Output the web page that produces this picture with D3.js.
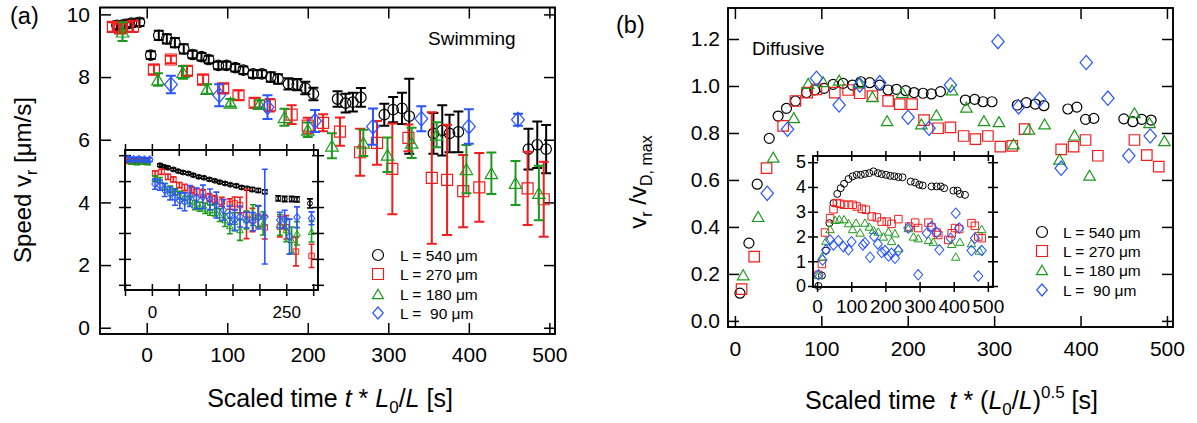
<!DOCTYPE html>
<html>
<head>
<meta charset="utf-8">
<script src="https://cdn.jsdelivr.net/npm/d3@7"></script>
<style>
  body { margin: 0; background: #fff; }
  text { white-space: pre; }
</style>
</head>
<body>
<script>
// ---- legend / series
const seriesLabels = ["L = 540 \u03bcm", "L = 270 \u03bcm", "L = 180 \u03bcm", "L =  90 \u03bcm"];
const COLORS = ["#000000", "#f21d1d", "#1c9a1c", "#2a55ff"];
const SHAPES = ["circle", "square", "triangle", "diamond"];

// ---- (a) swimming, main: [scaled time, speed, error]
const swim540 = [[-37,9.65,.12],[-27,9.68,.12],[-19,9.72,.12],[-9,9.75,.12],[5,8.7,.12],[15,9.33,.15],[25,9.22,.15],
  [35,9.1,.15],[46,8.9,.15],[57,8.72,.12],[68,8.65,.12],[77,8.56,.12],[89,8.37,.12],[99,8.37,.12],[110,8.3,.12],
  [120,8.22,.12],[132,8.1,.12],[143,8.1,.12],[154,8.0,.15],[163,7.94,.15],[176,7.78,.18],[187,7.76,.18],[197,7.65,.2],
  [207,7.46,.2],[237,7.3,.25],[247,7.17,.3],[256,7.2,.3],[266,7.35,.3],[295,6.8,.35],[306,6.96,.4],[317,7.0,.5],
  [326,6.75,1.2],[356,6.2,.65],[367,6.3,.8],[376,6.2,.6],[387,6.25,.65],[474,5.7,.65],[485,5.84,.74],[496,5.7,.77]];
const swim270 = [[-42,9.6,.15],[-33,9.55,.15],[-25,9.6,.15],[-17,9.62,.18],[9,8.24,.15],[30,8.56,.12],[50,8.2,.15],
  [70,7.92,.15],[95,7.64,.15],[114,7.42,.15],[134,7.18,.15],[153,7.1,.2],[180,6.8,.3],[200,6.45,.25],[219,6.54,.27],
  [240,6.26,.45],[265,5.6,.75],[286,5.9,.7],[305,5.07,1.45],[325,6.06,.43],[354,4.78,2.1],[373,4.72,1.76],
  [393,4.36,1.15],[413,4.48,1.1],[473,4.45,1.17],[493,4.1,1.2]];
const swim180 = [[-30,9.45,.3],[14,7.92,.2],[45,8.15,.2],[75,7.62,.15],[104,7.18,.12],[140,7.14,.12],[171,6.72,.27],
  [200,6.32,.23],[230,5.81,.4],[269,5.9,.42],[299,5.52,.55],[329,5.9,.48],[360,6.16,.4],[397,5.06,.77],
  [428,4.93,.66],[458,4.62,.7],[487,4.3,.87]];
const swim90 = [[30,7.76,.28],[90,7.42,.35],[150,7.04,.38],[209,6.6,.35],[281,6.42,.58],[341,6.67,.4],
  [400,6.42,.55],[461,6.64,.19]];

// ---- (a) inset, unscaled time: [time, speed, error]
const swimRaw540 = [[-40,9.6,.1],[-30,9.62,.1],[-20,9.6,.1],[-10,9.58,.1],[15,9.23,.1],[23,9.1,.1],[30,9.03,.1],
  [40,8.9,.1],[49,8.77,.1],[58,8.67,.1],[68,8.59,.1],[77,8.46,.1],[87,8.33,.1],[97,8.26,.1],[107,8.13,.1],
  [117,8.03,.1],[126,7.92,.1],[136,7.82,.1],[146,7.72,.1],[157,7.64,.12],[167,7.51,.12],[177,7.44,.12],
  [187,7.36,.15],[198,7.28,.15],[210,7.18,.15],[235,6.67,.2],[247,6.62,.2],[260,6.62,.2],[270,6.59,.2],[294,6.28,.35]];
const swimRaw270 = [[-42,9.55,.15],[-32,9.5,.15],[-22,9.55,.15],[-12,9.5,.15],[6,8.59,.2],[18,8.72,.2],[30,8.33,.2],
  [40,8.13,.2],[51,7.69,.2],[61,7.51,.25],[74,7.31,.25],[83,7.18,.25],[95,7.05,.3],[107,6.74,.3],[117,6.59,.3],
  [130,6.41,.35],[145,6.23,.4],[154,6.28,.5],[164,6.15,.6],[176,5.46,1.9],[187,5.0,.9],[198,5.26,.8],[210,4.44,.9],
  [238,4.49,.8],[250,4.44,.9],[268,2.56,1.1],[297,2.23,.9]];
const swimRaw180 = [[-38,9.5,.15],[-28,9.45,.15],[-18,9.5,.15],[-8,9.45,.15],[6,8.21,.2],[15,8.08,.2],[24,7.56,.25],
  [34,7.36,.25],[43,7.18,.25],[52,6.92,.3],[61,6.79,.3],[71,6.54,.3],[80,6.15,.35],[89,6.03,.35],[99,5.9,.4],
  [108,5.77,.4],[117,5.77,.45],[126,5.38,.5],[136,5.0,.5],[145,4.54,.6],[154,4.87,.7],[164,4.23,.8],[176,5.0,.7],
  [188,5.38,.8],[198,5.26,.8],[207,4.74,.9],[238,4.62,.8],[250,4.23,.9],[260,3.46,1.0],[270,3.97,.9],[297,4.1,.8]];
const swimRaw90 = [[-44,9.7,.15],[-34,9.68,.15],[-24,9.7,.15],[-14,9.66,.15],[-4,9.65,.15],[6,7.77,.4],[15,7.69,.4],
  [24,7.31,.5],[34,7.05,.5],[43,6.74,.6],[52,6.49,.6],[61,6.41,.7],[71,6.85,.8],[83,6.67,.8],[95,6.79,.9],
  [108,6.59,.8],[120,6.15,1.0],[133,5.77,.8],[145,5.38,.7],[154,5.0,.8],[164,5.26,.8],[176,5.0,.6],[188,4.87,.7],
  [198,5.21,.9],[210,5.26,3.65],[238,5.0,.6],[247,5.05,.7],[256,3.72,1.35],[270,5.21,.8],[297,5.13,.5]];

// ---- (b) diffusive, main: [scaled time, vr / vD,max]
const diff540 = [[5.8,.118],[16.2,.331],[25.8,.582],[39.7,.777],[50,.872],[59.7,.905],[70.1,.936],[82.8,.972],
  [92.5,.983],[103.2,.99],[113.6,1.007],[125.2,1.011],[136,1.004],[145.7,1.018],[156,1.014],[167.6,1.004],
  [177.3,.983],[186.9,.986],[197.7,.98],[207.3,.972],[217.7,.969],[227.4,.966],[237.8,.976],[266.7,.94],
  [277.5,.943],[287.1,.933],[297.5,.933],[326.8,.919],[337.2,.929],[347.6,.923],[357.6,.916],[385.3,.902],
  [395.7,.91],[405.8,.858],[415.4,.862],[450.1,.86],[460.5,.848],[470.9,.858],[481.7,.855]];
const diff270 = [[7.7,.135],[22.3,.274],[36.6,.65],[55.8,.83],[70,.936],[83.6,.972],[94.4,.986],[115.6,.972],
  [131,.983],[144.5,.969],[159.2,.957],[177.3,.937],[190.8,.923],[205,.923],[218.9,.855],[235.1,.82],[249.4,.824],
  [264.7,.787],[278.3,.774],[292.8,.787],[307.2,.742],[321,.745],[335.3,.816],[377.6,.73],[391.9,.742],
  [405.8,.77],[420,.703],[462.4,.77],[476.7,.706],[490.5,.657]];
const diff180 = [[9.6,.196],[26.9,.444],[44.3,.697],[68.2,.865],[84.8,1.011],[102.1,1.018],[120.6,1.025],
  [143.7,1.014],[159.2,.954],[176.1,.852],[193.9,.972],[215.8,.838],[233.2,.877],[251.3,.983],[267.9,.91],
  [288.2,.852],[305.6,.848],[322.5,.753],[340.2,.816],[358.4,.838],[375.7,.688],[393,.791],[410.4,.62],
  [462.4,.886],[479.8,.844],[497.1,.767]];
const diff90 = [[37.4,.543],[60.9,.816],[94.4,1.033],[120.6,.919],[144.5,1.004],[167.6,1.014],[200.4,.867],
  [224.7,.82],[249.4,1.004],[304.4,1.189],[328.3,.911],[352.6,.943],[377.6,.65],[406.6,1.1],[431.6,.948],
  [455.9,.703],[480.6,.787]];

// ---- (b) inset: [time, speed]
const diffRaw540 = [[4,0],[14,.42],[26,1.43],[36,2.54],[48,3.35],[59,3.72],[69,3.95],[79,4.13],[92,4.32],[104,4.43],
  [116,4.49],[128,4.49],[140,4.53],[153,4.56],[165,4.63],[178,4.56],[189,4.52],[202,4.49],[214,4.45],[226,4.43],
  [238,4.4],[250,4.39],[274,4.22],[287,4.18],[299,4.09],[309,4.06],[335,4.02],[350,4.02],[362,4.02],[372,3.95],
  [399,3.85],[411,3.85],[418,3.72],[433,3.68]];
const diffRaw270 = [[4,.45],[14,.89],[23,2.16],[38,2.74],[48,3.1],[58,3.35],[67,3.32],[79,3.28],[92,3.28],[104,3.28],
  [116,3.21],[131,3.12],[143,3.08],[160,2.81],[175,2.77],[189,2.6],[204,2.6],[218,2.51],[238,2.7],[270,2.4],
  [287,2.56],[296,2.34],[326,2.56],[335,2.38],[350,2.16],[355,2.06],[384,1.86],[394,2.13],[404,2.34],[416,2.3],
  [452,2.54],[462,2.43],[472,2.0],[482,1.93]];
const diffRaw180 = [[4,.45],[14,1.19],[26,1.83],[38,2.3],[53,2.67],[65,2.7],[79,2.7],[92,2.54],[104,2.3],[114,2.56],
  [126,2.16],[140,2.56],[153,2.4],[165,2.27],[179,2.2],[194,2.0],[209,2.2],[218,1.82],[228,2.13],[238,1.53],
  [267,2.34],[282,2.0],[296,1.93],[326,1.86],[340,1.79],[394,1.7],[406,1.19],[418,1.79],[452,1.73],[475,1.43],[482,2.3]];
const diffRaw90 = [[4,.45],[16,1.05],[26,1.46],[38,1.86],[48,1.66],[62,1.83],[77,1.59],[92,1.46],[101,1.79],[134,1.66],
  [140,1.75],[155,1.16],[167,2.0],[178,1.7],[189,1.35],[199,1.43],[209,1.21],[218,1.32],[228,1.12],[238,1.43],
  [267,2.34],[296,.45],[321,2.13],[335,2.4],[350,2.16],[358,1.46],[391,1.93],[406,2.94],[416,2.34],[452,1.43],
  [462,1.93],[472,.4],[482,1.43]];

// ---- ticks
const ticksA_x = [0, 100, 200, 300, 400, 500];
const ticksA_y = [0, 2, 4, 6, 8, 10];
const ticksInA_x = [-50, 0, 50, 100, 150, 200, 250, 300];
const labelsInA_x = [0, 250];
const ticksInA_y = [0, 2, 4, 6, 8, 10];
const ticksB_x = [0, 100, 200, 300, 400, 500];
const ticksB_y = [0, 0.2, 0.4, 0.6, 0.8, 1.0, 1.2];
const ticksInB_x = [0, 100, 200, 300, 400, 500];
const ticksInB_y = [0, 1, 2, 3, 4, 5];

const svg = d3.select("body").append("svg")
  .attr("width", 1197).attr("height", 423)
  .style("font-family", "'Liberation Sans', Arial, sans-serif");

const symbolPath = (shape, s) => {
  if (shape === "circle") return d3.symbol(d3.symbolCircle, Math.PI * s * s / 4)();
  if (shape === "square") return d3.symbol(d3.symbolSquare, s * s)();
  if (shape === "triangle") return d3.symbol(d3.symbolTriangle, Math.sqrt(3) / 4 * s * s)();
  return d3.symbol(d3.symbolSquare, s * s / 2)();
};
const symbolTransform = (shape, s) => {
  if (shape === "diamond") return " scale(0.95,1.1) rotate(45)";
  if (shape === "triangle") return ` translate(0,${0.14 * s})`;
  return "";
};

function addMarkers(g, x, y, pts, k, s, sw) {
  const shape = SHAPES[k];
  g.append("g").selectAll("path").data(pts).join("path")
    .attr("d", symbolPath(shape, s))
    .attr("transform", d => `translate(${x(d[0])},${y(d[1])})` + symbolTransform(shape, s))
    .attr("fill", "none").attr("stroke", COLORS[k]).attr("stroke-width", sw);
}

function addErrors(g, x, y, pts, k, cap, sw) {
  g.append("g").selectAll("path").data(pts).join("path")
    .attr("d", d => {
      const xx = x(d[0]), hi = y(d[1] + d[2]), lo = y(d[1] - d[2]), c = cap / 2;
      return `M${xx - c},${hi}H${xx + c}M${xx},${hi}V${lo}M${xx - c},${lo}H${xx + c}`;
    })
    .attr("fill", "none").attr("stroke", COLORS[k]).attr("stroke-width", sw);
}

// one side of ticks; size > 0 points outward, size < 0 inward
function side(g, axisFn, scale, values, tr, size, fmt, pad, fs) {
  const ax = axisFn(scale).tickValues(values).tickSize(size).tickSizeOuter(0)
    .tickPadding(pad || 0).tickFormat(fmt || (() => ""));
  const s = g.append("g").attr("transform", tr).call(ax)
    .attr("font-size", null).attr("font-family", null);
  s.select(".domain").remove();
  s.selectAll(".tick line").attr("stroke", "#000").attr("stroke-width", 1.5);
  s.selectAll(".tick text").attr("fill", "#000").attr("font-size", fs);
  return s;
}

function frame(g, x, y, fill) {
  const [x0, x1] = x.range(), [yb, yt] = y.range();
  return g.append("rect").attr("x", x0).attr("y", yt).attr("width", x1 - x0).attr("height", yb - yt)
    .attr("fill", fill || "none").attr("stroke", "#000").attr("stroke-width", 1.6);
}

function boxTicks(g, x, y, o) {
  const [x0, x1] = x.range(), [yb, yt] = y.range();
  side(g, d3.axisBottom, x, o.xt, `translate(0,${yb})`, -o.tin, o.xf, o.xpad, o.fs);
  side(g, d3.axisTop, x, o.xt, `translate(0,${yt})`, -o.tin);
  side(g, d3.axisLeft, y, o.yt, `translate(${x0},0)`, -o.tin, o.yf, o.ypad, o.fs);
  side(g, d3.axisRight, y, o.yt, `translate(${x1},0)`, -o.tin);
}

function crossTicks(g, x, y, o) {
  const [x0, x1] = x.range(), [yb, yt] = y.range();
  side(g, d3.axisBottom, x, o.xt, `translate(0,${yb})`, o.t, o.xf, o.xpad, o.fsx || o.fs);
  side(g, d3.axisBottom, x, o.xt, `translate(0,${yb})`, -o.t);
  side(g, d3.axisTop, x, o.xt, `translate(0,${yt})`, o.t);
  side(g, d3.axisTop, x, o.xt, `translate(0,${yt})`, -o.t);
  side(g, d3.axisLeft, y, o.yt, `translate(${x0},0)`, o.t, o.yf, o.ypad, o.fs);
  side(g, d3.axisLeft, y, o.yt, `translate(${x0},0)`, -o.t);
  side(g, d3.axisRight, y, o.yt, `translate(${x1},0)`, o.t);
  side(g, d3.axisRight, y, o.yt, `translate(${x1},0)`, -o.t);
}

function legend(g, x0, tx, rows, s) {
  seriesLabels.forEach((lab, k) => {
    const shape = SHAPES[k];
    g.append("path").attr("d", symbolPath(shape, s))
      .attr("transform", `translate(${x0},${rows[k]})` + symbolTransform(shape, s))
      .attr("fill", "none").attr("stroke", COLORS[k]).attr("stroke-width", 1.2);
    g.append("text").attr("x", tx).attr("y", rows[k] + 5.5).attr("font-size", 15.5).text(lab);
  });
}

const sizesMain = [10.5, 11, 12.5, 13.5];

// ================= panel (a)
const gA = svg.append("g");
const xA = d3.scaleLinear().domain([-58, 507]).range([100, 555]);
const yA = d3.scaleLinear().domain([-0.2, 10.22]).range([334, 7.5]);
frame(gA, xA, yA, "#fff");
boxTicks(gA, xA, yA, { xt: ticksA_x, yt: ticksA_y, tin: 11, xf: d3.format("d"), yf: d3.format("d"),
  xpad: 13.5, ypad: 10, fs: 21 });

[swim540, swim270, swim180, swim90].forEach((pts, k) => {
  addErrors(gA, xA, yA, pts, k, 10, 2);
  addMarkers(gA, xA, yA, pts, k, sizesMain[k], 1.2);
});

// inset (a)
const xAi = d3.scaleLinear().domain([-50, 309]).range([125, 318]);
const yAi = d3.scaleLinear().domain([-0.4, 10.4]).range([290, 150]);
frame(gA, xAi, yAi, "#fff");
crossTicks(gA, xAi, yAi, { xt: ticksInA_x, yt: ticksInA_y, t: 6,
  xf: d => labelsInA_x.includes(d) ? d : "", yf: () => "", xpad: 10, ypad: 2, fs: 17 });
[swimRaw540, swimRaw270, swimRaw180, swimRaw90].forEach((pts, k) => {
  addErrors(gA, xAi, yAi, pts, k, 6, 1.6);
  addMarkers(gA, xAi, yAi, pts, k, [5, 5.5, 6.5, 7][k], 1);
});
frame(gA, xAi, yAi);

legend(gA, 378, 400, [255, 274, 294, 313], 11);
frame(gA, xA, yA);

gA.append("text").attr("x", 10).attr("y", 24).attr("font-size", 23.5).text("(a)");
gA.append("text").attr("x", 428).attr("y", 45).attr("font-size", 19).text("Swimming");

const tA = gA.append("text").attr("x", 330).attr("y", 407).attr("font-size", 25).attr("text-anchor", "middle");
tA.append("tspan").text("Scaled time ");
tA.append("tspan").attr("font-style", "italic").text("t");
tA.append("tspan").text(" * ");
tA.append("tspan").attr("font-style", "italic").text("L");
tA.append("tspan").attr("font-size", 17).attr("dy", 6).text("0");
tA.append("tspan").attr("dy", -6).text("/");
tA.append("tspan").attr("font-style", "italic").text("L");
tA.append("tspan").text(" [s]");

const yTA = gA.append("text").attr("transform", "translate(31,180) rotate(-90)")
  .attr("font-size", 24).attr("text-anchor", "middle");
yTA.append("tspan").text("Speed v");
yTA.append("tspan").attr("font-size", 16).attr("dy", 6).text("r");
yTA.append("tspan").attr("dy", -6).text(" [\u03bcm/s]");

// ================= panel (b)
const gB = svg.append("g");
const xB = d3.scaleLinear().domain([-8, 507]).range([728, 1173]);
const yB = d3.scaleLinear().domain([-0.026, 1.332]).range([327, 8]);
frame(gB, xB, yB, "#fff");
boxTicks(gB, xB, yB, { xt: ticksB_x, yt: ticksB_y, tin: 11, xf: d3.format("d"), yf: d3.format(".1f"),
  xpad: 14.5, ypad: 8, fs: 21 });

[diff540, diff270, diff180, diff90].forEach((pts, k) => {
  addMarkers(gB, xB, yB, pts, k, [10, 10.5, 11.5, 13][k], 1.2);
});

// inset (b)
const xBi = d3.scaleLinear().domain([-12, 515]).range([813, 993]);
const yBi = d3.scaleLinear().domain([-0.04, 5.25]).range([287, 156]);
frame(gB, xBi, yBi, "#fff");
crossTicks(gB, xBi, yBi, { xt: ticksInB_x, yt: ticksInB_y, t: 5,
  xf: d3.format("d"), yf: d3.format("d"), xpad: 8, ypad: 2, fs: 18, fsx: 19 });
[diffRaw540, diffRaw270, diffRaw180, diffRaw90].forEach((pts, k) => {
  addMarkers(gB, xBi, yBi, pts, k, [7, 7.5, 8.5, 9.5][k], 1);
});
frame(gB, xBi, yBi);

legend(gB, 1042, 1063, [232, 251, 270, 290], 11);
frame(gB, xB, yB);

gB.append("text").attr("x", 616).attr("y", 33).attr("font-size", 23.5).text("(b)");
gB.append("text").attr("x", 752).attr("y", 55).attr("font-size", 19).text("Diffusive");

const tB = gB.append("text").attr("x", 805).attr("y", 409).attr("font-size", 25);
tB.append("tspan").text("Scaled time  ");
tB.append("tspan").attr("font-style", "italic").text("t");
tB.append("tspan").text(" * (");
tB.append("tspan").attr("font-style", "italic").text("L");
tB.append("tspan").attr("font-size", 17).attr("dy", 6).text("0");
tB.append("tspan").attr("dy", -6).text("/");
tB.append("tspan").attr("font-style", "italic").text("L");
tB.append("tspan").text(")");
tB.append("tspan").attr("font-size", 17).attr("dy", -11).text("0.5");
tB.append("tspan").attr("dy", 11).text(" [s]");

const yTB = gB.append("text").attr("transform", "translate(646,182) rotate(-90)")
  .attr("font-size", 24).attr("text-anchor", "middle");
yTB.append("tspan").text("v");
yTB.append("tspan").attr("font-size", 16).attr("dy", 6).text("r");
yTB.append("tspan").attr("dy", -6).text(" /v");
yTB.append("tspan").attr("font-size", 16).attr("dy", 6).text("D, max");
</script>
</body>
</html>
